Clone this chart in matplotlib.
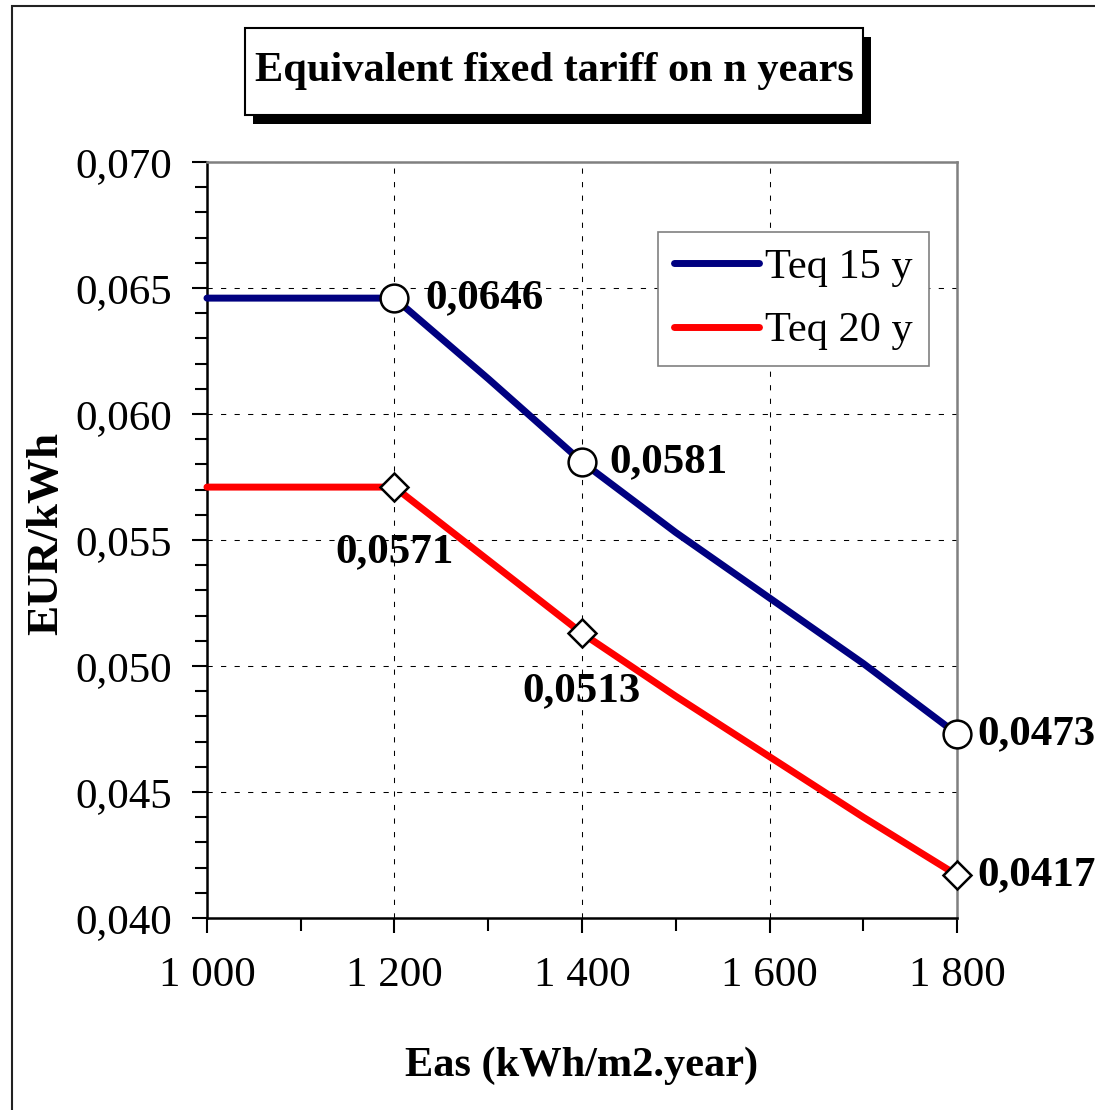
import matplotlib
matplotlib.use("Agg")
import matplotlib.pyplot as plt
from matplotlib.patches import Rectangle
from matplotlib.ticker import MultipleLocator, FuncFormatter

# data
eas = [1000, 1200, 1300, 1400, 1500, 1600, 1700, 1800]
teq15 = [0.0646, 0.0646, 0.0614, 0.0581, 0.0553, 0.0527, 0.0501, 0.0473]
teq20 = [0.0571, 0.0571, 0.0542, 0.0513, 0.0488, 0.0464, 0.0440, 0.0417]
series_names = ["Teq 15 y", "Teq 20 y"]
labelled = [1, 3, 7]   # points that carry a marker and a value label

title = "Equivalent fixed tariff on n years"
xlabel = "Eas (kWh/m2.year)"
ylabel = "EUR/kWh"

plt.rcParams["font.family"] = ["Liberation Serif", "DejaVu Serif"]

fig = plt.figure(figsize=(10.95, 11.10), dpi=100)
ax = fig.add_axes([0.189, 0.173, 0.685, 0.681])

# outer frame and title box with shadow
fig.patches.append(Rectangle((0.011, -0.5), 2.0, 1.4946, transform=fig.transFigure,
                             fill=False, edgecolor="#222222", linewidth=1.5))
fig.patches.append(Rectangle((0.231, 0.8883), 0.5644, 0.0784, transform=fig.transFigure,
                             facecolor="black", edgecolor="black", linewidth=0))
fig.patches.append(Rectangle((0.2237, 0.8964), 0.5644, 0.0784, transform=fig.transFigure,
                             facecolor="white", edgecolor="black", linewidth=1.5))
fig.text(0.2237 + 0.5644 / 2, 0.8964 + 0.0784 / 2, title, ha="center", va="center",
         fontsize=30.5, fontweight="bold")

l1, = ax.plot(eas, teq15, color="#000080", lw=5, solid_capstyle="round",
              marker="o", markevery=labelled, ms=20, mfc="white", mec="black", mew=1.8,
              label=series_names[0], zorder=4, clip_on=False)
l2, = ax.plot(eas, teq20, color="#ff0000", lw=5, solid_capstyle="round",
              marker="D", markevery=labelled, ms=14, mfc="white", mec="black", mew=1.8,
              label=series_names[1], zorder=4, clip_on=False)

fmt = lambda v: ("%.4f" % v).replace(".", ",")

# value labels: offsets in points
off15 = [(22, 0), (20, 0), (15, 0)]
off20 = [(0, -47), (0, -42), (15, 0)]
for k, i in enumerate(labelled):
    ha = "left" if off15[k][1] == 0 else "center"
    ax.annotate(fmt(teq15[i]), (eas[i], teq15[i]), xytext=off15[k], textcoords="offset points",
                ha=ha, va="center", fontsize=31, fontweight="bold", annotation_clip=False)
    ha = "left" if off20[k][1] == 0 else "center"
    ax.annotate(fmt(teq20[i]), (eas[i], teq20[i]), xytext=off20[k], textcoords="offset points",
                ha=ha, va="center", fontsize=31, fontweight="bold", annotation_clip=False)

ax.set_xlim(1000, 1800)
ax.set_ylim(0.040, 0.070)
ax.xaxis.set_major_locator(MultipleLocator(200))
ax.xaxis.set_minor_locator(MultipleLocator(100))
ax.yaxis.set_major_locator(MultipleLocator(0.005))
ax.yaxis.set_minor_locator(MultipleLocator(0.001))
ax.xaxis.set_major_formatter(FuncFormatter(lambda v, p: "{:,.0f}".format(v).replace(",", " ")))
ax.yaxis.set_major_formatter(FuncFormatter(lambda v, p: ("%.3f" % v).replace(".", ",")))

ax.tick_params(axis="both", which="major", direction="out", length=11, width=1.5,
               labelsize=31, color="black")
ax.tick_params(axis="both", which="minor", direction="out", length=9, width=1.5, color="black")
ax.tick_params(axis="x", which="major", pad=17)
ax.tick_params(axis="y", which="major", pad=14)

ax.grid(True, which="major", color="black", lw=0.75, ls=(0, (5, 8)))
ax.set_axisbelow(True)

for s in ["left", "bottom"]:
    ax.spines[s].set_color("black")
    ax.spines[s].set_linewidth(1.8)
for s in ["top", "right"]:
    ax.spines[s].set_color("#808080")
    ax.spines[s].set_linewidth(1.8)

ax.set_xlabel(xlabel, fontsize=30.5, fontweight="bold")
ax.xaxis.set_label_coords(0.5, -0.196)
ax.xaxis.label.set_va("center")
ax.set_ylabel(ylabel, fontsize=32.5, fontweight="bold")
ax.yaxis.set_label_coords(-0.214, 0.508)
ax.yaxis.label.set_va("center")

leg = ax.legend(handles=[l1, l2], loc="upper left", bbox_to_anchor=(0.601, 0.907),
                borderaxespad=0, fontsize=30.5, handlelength=2.0, handletextpad=0.15,
                labelspacing=0.58, borderpad=0.38, fancybox=False, framealpha=1)
leg.get_frame().set_edgecolor("#808080")
leg.get_frame().set_linewidth(1.2)
for h in leg.get_lines():
    h.set_marker("")
    h.set_linewidth(5)

fig.savefig("out.png", dpi=100)
